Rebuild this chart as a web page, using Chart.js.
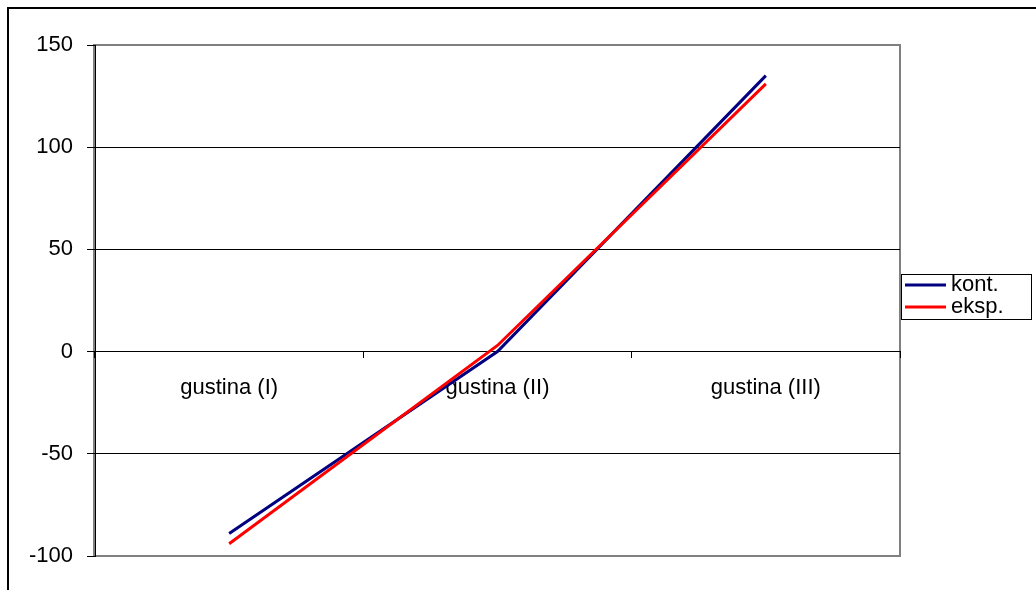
<!DOCTYPE html>
<html>
<head>
<meta charset="utf-8">
<script src="https://cdn.jsdelivr.net/npm/chart.js@4/dist/chart.umd.min.js"></script>
<style>
  html, body { margin: 0; padding: 0; background: #ffffff; }
  #wrap { width: 1036px; height: 590px; position: relative; }
</style>
</head>
<body>
<div id="wrap"><canvas id="c" width="1036" height="590"></canvas></div>
<script>
// Categories and series
const categories = ['gustina (I)', 'gustina (II)', 'gustina (III)'];
const seriesNames = ['kont.', 'eksp.'];
const kontValues = [-89, 0, 135];
const ekspValues = [-94, 3, 131];
const seriesColors = ['#000080', '#ff0000'];

// Value axis
const yMin = -100;
const yMax = 150;
const yStep = 50;

const FONT = "'Liberation Sans', Arial, sans-serif";

// Page background, outer frame and grey plot frame
const framePlugin = {
  id: 'frames',
  beforeDraw(chart) {
    const ctx = chart.ctx;
    const a = chart.chartArea;
    ctx.save();
    ctx.fillStyle = '#ffffff';
    ctx.fillRect(0, 0, chart.width, chart.height);
    ctx.strokeStyle = '#000000';
    ctx.lineWidth = 2;
    ctx.strokeRect(8, 8, chart.width + 20, chart.height + 20);
    ctx.strokeStyle = '#808080';
    ctx.lineWidth = 2;
    ctx.strokeRect(a.left - 1, a.top, a.right - a.left + 1, a.bottom - a.top);
    ctx.restore();
  }
};

// Boxed legend on the right side
const legendPlugin = {
  id: 'boxLegend',
  afterDraw(chart) {
    const ctx = chart.ctx;
    const boxX = 901, boxY = 274, boxW = 130, boxH = 45;
    ctx.save();
    ctx.fillStyle = '#ffffff';
    ctx.fillRect(boxX, boxY, boxW, boxH);
    ctx.strokeStyle = '#000000';
    ctx.lineWidth = 1;
    ctx.strokeRect(boxX + 0.5, boxY + 0.5, boxW, boxH);
    ctx.font = '22px ' + FONT;
    ctx.textBaseline = 'middle';
    ctx.textAlign = 'left';
    chart.data.datasets.forEach((ds, i) => {
      const y = boxY + 11 + i * 22;
      ctx.strokeStyle = ds.borderColor;
      ctx.lineWidth = 3;
      ctx.beginPath();
      ctx.moveTo(boxX + 4, y);
      ctx.lineTo(boxX + 45, y);
      ctx.stroke();
      ctx.fillStyle = '#000000';
      ctx.fillText(ds.label, boxX + 50, y);
    });
    ctx.restore();
  }
};

new Chart(document.getElementById('c'), {
  type: 'line',
  data: {
    labels: categories,
    datasets: [
      {
        label: seriesNames[0],
        data: kontValues,
        borderColor: seriesColors[0],
        backgroundColor: seriesColors[0],
        borderWidth: 3,
        pointRadius: 0,
        tension: 0,
        order: 1
      },
      {
        label: seriesNames[1],
        data: ekspValues,
        borderColor: seriesColors[1],
        backgroundColor: seriesColors[1],
        borderWidth: 3,
        pointRadius: 0,
        tension: 0,
        order: 0
      }
    ]
  },
  options: {
    responsive: false,
    animation: false,
    devicePixelRatio: 1,
    layout: { padding: { left: 8, top: 45, right: 136, bottom: 34 } },
    plugins: {
      legend: { display: false },
      tooltip: { enabled: false },
      title: { display: false }
    },
    scales: {
      x: {
        type: 'category',
        position: { y: 0 },
        offset: true,
        grid: {
          offset: true,
          drawOnChartArea: false,
          drawTicks: true,
          tickLength: 6,
          color: '#000000',
          lineWidth: 1
        },
        border: { display: true, color: '#000000', width: 1 },
        ticks: {
          color: '#000000',
          font: { family: FONT, size: 22 },
          padding: 17,
          maxRotation: 0,
          autoSkip: false
        }
      },
      y: {
        min: yMin,
        max: yMax,
        position: 'left',
        afterFit(scale) { scale.width = 87; },
        grid: {
          color(ctx) {
            const v = ctx.tick ? ctx.tick.value : null;
            return (v === yMin || v === yMax) ? 'rgba(0,0,0,0)' : '#000000';
          },
          tickColor: '#000000',
          lineWidth: 1,
          drawTicks: true,
          tickLength: 8
        },
        border: { display: true, color: '#000000', width: 1 },
        ticks: {
          stepSize: yStep,
          color: '#000000',
          font: { family: FONT, size: 22 },
          padding: 14
        }
      }
    }
  },
  plugins: [framePlugin, legendPlugin]
});
</script>
</body>
</html>
